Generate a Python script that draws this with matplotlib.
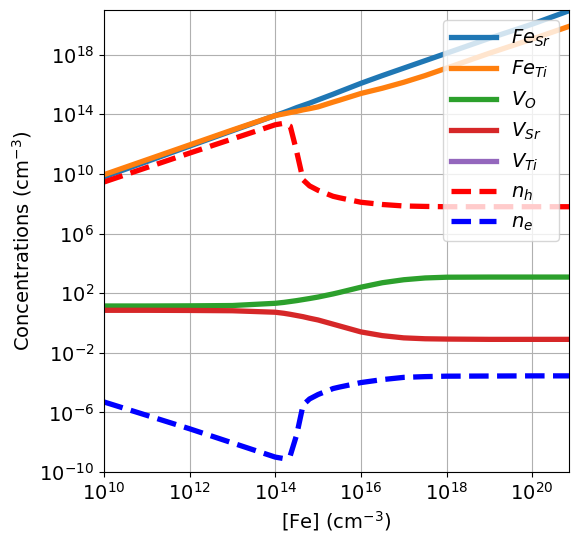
import numpy as np
import matplotlib
matplotlib.use('Agg')
import matplotlib.pyplot as plt

# log10 of [Fe] (cm^-3) at sample points
fe_log = [10, 11, 12, 13, 14, 14.2, 14.35, 14.5, 14.65, 14.8, 15, 15.35, 15.5,
          16, 16.5, 17, 17.5, 18, 19, 20, 20.86]

# log10 of concentrations (cm^-3)
fe_sr_log = [9.8, 10.83, 11.87, 12.9, 13.92, 14.12, 14.28, 14.45, 14.6, 14.75, 14.97,
             15.35, 15.52, 16.08, 16.6, 17.1, 17.6, 18.1, 19.1, 20.05, 20.95]
fe_ti_log = [9.95, 10.95, 11.95, 12.95, 13.92, 14.03, 14.12, 14.2, 14.3, 14.38, 14.5,
             14.82, 14.95, 15.4, 15.75, 16.15, 16.6, 17.1, 18.1, 19.05, 19.9]
v_o_log = [1.14, 1.14, 1.15, 1.17, 1.32, 1.38, 1.44, 1.5, 1.57, 1.64, 1.74, 1.95, 2.05,
           2.4, 2.7, 2.9, 3.02, 3.07, 3.08, 3.08, 3.08]
v_sr_log = [0.85, 0.85, 0.84, 0.82, 0.72, 0.65, 0.58, 0.5, 0.42, 0.32, 0.2, -0.08, -0.2,
            -0.6, -0.85, -1.0, -1.06, -1.08, -1.1, -1.1, -1.1]
v_ti_log = [-15.0] * 21
n_h_log = [9.46, 10.43, 11.4, 12.35, 13.3, 13.4, 13.2, 11.5, 9.6, 9.2, 8.9, 8.5, 8.4,
           8.1, 7.95, 7.85, 7.82, 7.8, 7.8, 7.8, 7.8]
n_e_log = [-5.3, -6.2, -7.1, -8.05, -9.0, -9.1, -8.9, -7.5, -5.5, -5.1, -4.8, -4.4, -4.3,
           -4.0, -3.8, -3.65, -3.6, -3.57, -3.56, -3.55, -3.55]

fe = 10.0 ** np.array(fe_log)

series = [
    (fe_sr_log, r'$Fe_{Sr}$', 'tab:blue', '-'),
    (fe_ti_log, r'$Fe_{Ti}$', 'tab:orange', '-'),
    (v_o_log, r'$V_O$', 'tab:green', '-'),
    (v_sr_log, r'$V_{Sr}$', 'tab:red', '-'),
    (v_ti_log, r'$V_{Ti}$', 'tab:purple', '-'),
    (n_h_log, r'$n_h$', 'red', '--'),
    (n_e_log, r'$n_e$', 'blue', '--'),
]

fig = plt.figure(figsize=(5.79, 5.43), dpi=100)
ax = fig.add_axes([104 / 579, 71 / 543, 465 / 579, 462 / 543])

for vals, label, color, ls in series:
    ax.plot(fe, 10.0 ** np.array(vals), ls, color=color, lw=3.8, label=label)

ax.set_xscale('log')
ax.set_yscale('log')
ax.set_xlim(1e10, 10 ** 20.86)
ax.set_ylim(1e-10, 1e21)
ax.set_xticks([1e10, 1e12, 1e14, 1e16, 1e18, 1e20])
ax.set_yticks([1e-10, 1e-6, 1e-2, 1e2, 1e6, 1e10, 1e14, 1e18])
ax.minorticks_off()
ax.tick_params(labelsize=14)
ax.grid(True)

ax.set_xlabel('[Fe] (cm$^{-3}$)', fontsize=14)
ax.set_ylabel('Concentrations (cm$^{-3}$)', fontsize=14)
ax.legend(loc='upper right', fontsize=14, handlelength=2.3)

fig.savefig('out.png', dpi=100)
